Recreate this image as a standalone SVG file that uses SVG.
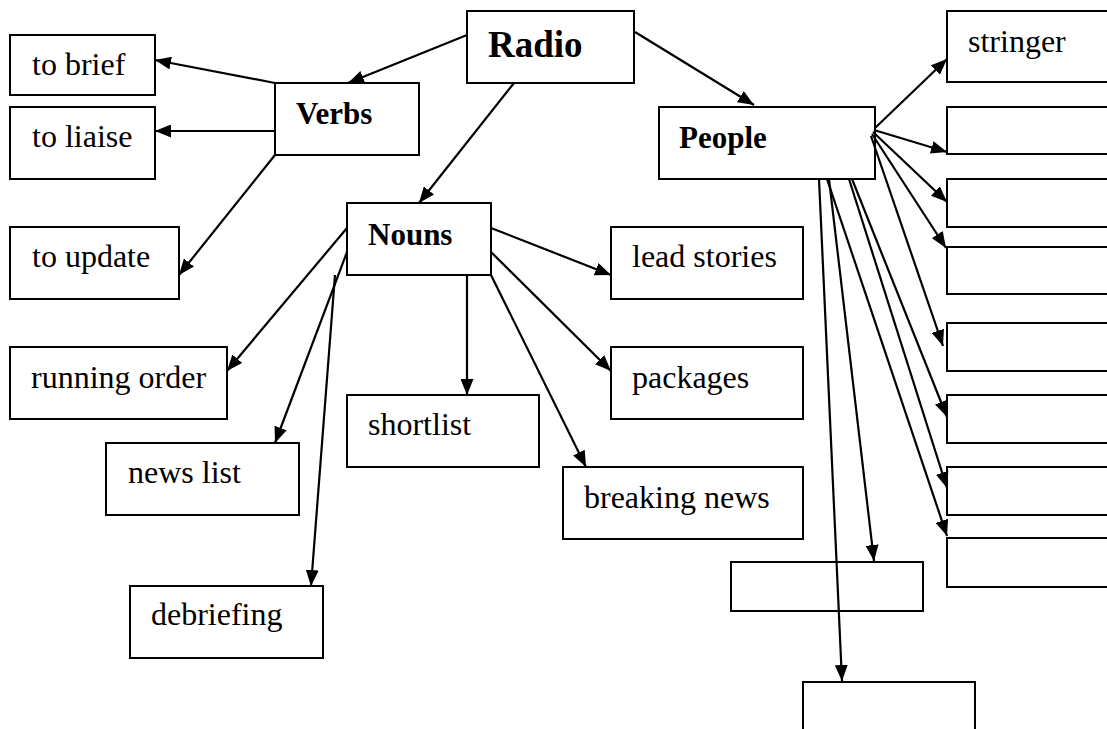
<svg xmlns="http://www.w3.org/2000/svg" width="1107" height="729" viewBox="0 0 1107 729">
<style>
.box{fill:#fff;stroke:#000;stroke-width:2}
.t{font-family:"Liberation Serif","Times New Roman",serif;font-size:32px;fill:#000}
.b{font-family:"Liberation Serif","Times New Roman",serif;font-size:31px;font-weight:bold;fill:#000}
.e{stroke:#000;stroke-width:2.2;fill:none;marker-end:url(#ah)}
</style>
<defs>
<marker id="ah" markerUnits="userSpaceOnUse" markerWidth="16" markerHeight="13" refX="16" refY="6.5" orient="auto">
<path d="M0,0 L16,6.5 L0,13 z" fill="#000"/>
</marker>
</defs>
<rect width="1107" height="729" fill="#fff"/>
<g id="nodes">
<g id="radio"><rect class="box" x="467" y="11" width="167" height="72"/><text class="b" x="488" y="57" style="font-size:37px">Radio</text></g>
<g id="verbs"><rect class="box" x="275" y="83" width="144" height="72"/><text class="b" x="296" y="124">Verbs</text></g>
<g id="nouns"><rect class="box" x="347" y="203" width="144" height="72"/><text class="b" x="368" y="245">Nouns</text></g>
<g id="people"><rect class="box" x="659" y="107" width="216" height="72"/><text class="b" x="679" y="148">People</text></g>
<g id="to-brief"><rect class="box" x="10" y="35" width="145" height="60"/><text class="t" x="32" y="75">to brief</text></g>
<g id="to-liaise"><rect class="box" x="10" y="107" width="145" height="72"/><text class="t" x="32" y="147">to liaise</text></g>
<g id="to-update"><rect class="box" x="10" y="227" width="169" height="72"/><text class="t" x="32" y="267">to update</text></g>
<g id="running-order"><rect class="box" x="10" y="347" width="217" height="72"/><text class="t" x="31" y="388">running order</text></g>
<g id="news-list"><rect class="box" x="106" y="443" width="193" height="72"/><text class="t" x="128" y="483">news list</text></g>
<g id="debriefing"><rect class="box" x="130" y="586" width="193" height="72"/><text class="t" x="151" y="625">debriefing</text></g>
<g id="shortlist"><rect class="box" x="347" y="395" width="192" height="72"/><text class="t" x="368" y="435">shortlist</text></g>
<g id="lead-stories"><rect class="box" x="611" y="227" width="192" height="72"/><text class="t" x="632" y="267">lead stories</text></g>
<g id="packages"><rect class="box" x="611" y="347" width="192" height="72"/><text class="t" x="632" y="388">packages</text></g>
<g id="breaking-news"><rect class="box" x="563" y="467" width="240" height="72"/><text class="t" x="584" y="508">breaking news</text></g>
<g id="stringer"><rect class="box" x="947" y="11" width="200" height="71"/><text class="t" x="968" y="52">stringer</text></g>
<g id="p2"><rect class="box" x="947" y="107" width="200" height="47"/></g>
<g id="p3"><rect class="box" x="947" y="179" width="200" height="48"/></g>
<g id="p4"><rect class="box" x="947" y="247" width="200" height="47"/></g>
<g id="p5"><rect class="box" x="947" y="323" width="200" height="48"/></g>
<g id="p6"><rect class="box" x="947" y="395" width="200" height="48"/></g>
<g id="p7"><rect class="box" x="947" y="467" width="200" height="48"/></g>
<g id="p8"><rect class="box" x="947" y="538" width="200" height="49"/></g>
<g id="p9"><rect class="box" x="731" y="562" width="192" height="49"/></g>
<g id="p10"><rect class="box" x="803" y="682" width="172" height="60"/></g>
</g>
<g id="connectors">
<line class="e" x1="467" y1="35" x2="348" y2="83"/>
<line class="e" x1="275" y1="83" x2="155" y2="60"/>
<line class="e" x1="275" y1="131" x2="155" y2="131"/>
<line class="e" x1="275" y1="155" x2="179" y2="275"/>
<line class="e" x1="514" y1="83" x2="419" y2="203"/>
<line class="e" x1="635" y1="32" x2="754" y2="105"/>
<line class="e" x1="491" y1="228" x2="611" y2="275"/>
<line class="e" x1="491" y1="252" x2="611" y2="371"/>
<line class="e" x1="467" y1="275" x2="467" y2="395"/>
<line class="e" x1="491" y1="275" x2="586" y2="467"/>
<line class="e" x1="347" y1="228" x2="227" y2="371"/>
<line class="e" x1="347" y1="252" x2="275" y2="443"/>
<line class="e" x1="335" y1="275" x2="311" y2="586"/>
<line class="e" x1="875" y1="128" x2="947" y2="59"/>
<line class="e" x1="874" y1="130" x2="947" y2="152"/>
<line class="e" x1="873" y1="132" x2="947" y2="202"/>
<line class="e" x1="872" y1="134" x2="946" y2="248"/>
<line class="e" x1="871" y1="136" x2="943" y2="346"/>
<line class="e" x1="852" y1="179" x2="947" y2="417"/>
<line class="e" x1="849" y1="179" x2="947" y2="488"/>
<line class="e" x1="827" y1="179" x2="947" y2="536"/>
<line class="e" x1="829" y1="179" x2="874" y2="561"/>
<line class="e" x1="819" y1="179" x2="842" y2="681"/>
</g>
</svg>
